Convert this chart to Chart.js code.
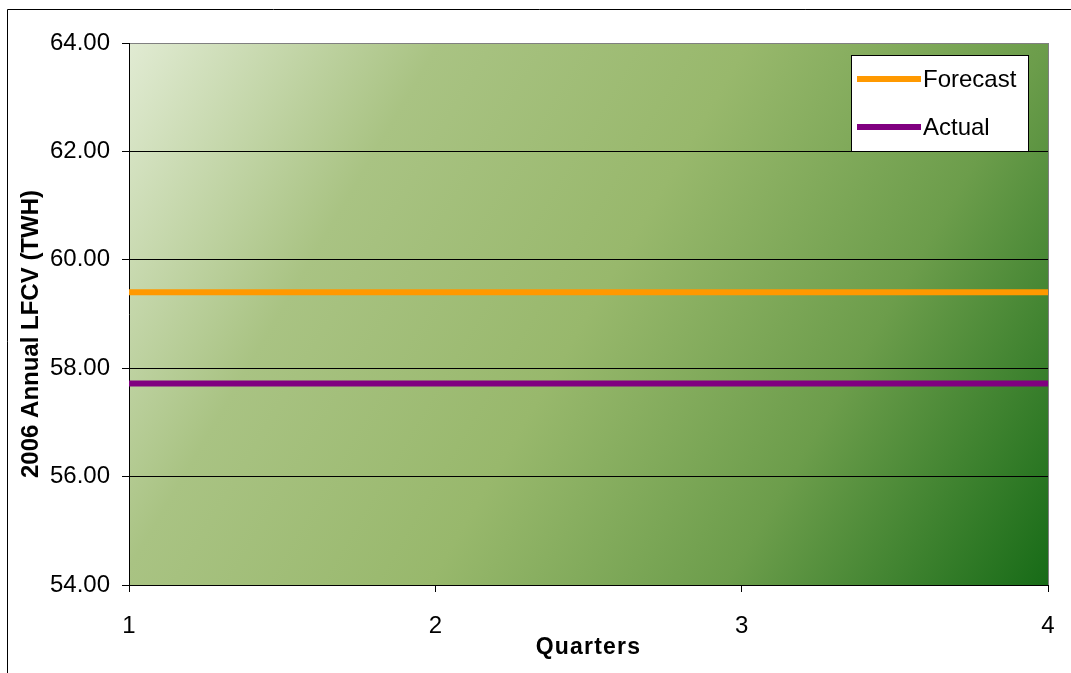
<!DOCTYPE html>
<html>
<head>
<meta charset="utf-8">
<style>
  html, body { margin: 0; padding: 0; background: #ffffff; }
  #wrap { position: relative; width: 1071px; height: 673px; }
  canvas { display: block; }
</style>
<script src="https://cdn.jsdelivr.net/npm/chart.js@4.4.1/dist/chart.umd.min.js"></script>
</head>
<body>
<div id="wrap"><canvas id="c" width="1071" height="673"></canvas></div>
<script>
// Quarters on the horizontal axis
const quarters = ['1', '2', '3', '4'];
// 2006 annual LFCV, TWH
const forecastValues = [59.4, 59.4, 59.4, 59.4];
const actualValues = [57.72, 57.72, 57.72, 57.72];
const seriesNames = ['Forecast', 'Actual'];
const yAxisTitle = '2006 Annual LFCV (TWH)';
const xAxisTitle = 'Quarters';

const FONT = '"Liberation Sans", Arial, sans-serif';

// Diagonal green wash behind the plot, light top-left to dark bottom-right
const plotBackground = {
  id: 'plotBackground',
  beforeDraw(chart) {
    const { ctx, chartArea: a } = chart;
    const g = ctx.createLinearGradient(a.left, a.top, a.right, a.bottom);
    g.addColorStop(0.0, '#e1ebd3');
    g.addColorStop(0.25, '#a9c383');
    g.addColorStop(0.5, '#98b86c');
    g.addColorStop(0.74, '#6c9d4b');
    g.addColorStop(1.0, '#176b17');
    ctx.save();
    ctx.fillStyle = g;
    ctx.fillRect(a.left, a.top, a.right - a.left, a.bottom - a.top);
    ctx.restore();
  },
  afterDraw(chart) {
    const { ctx, chartArea: a } = chart;
    ctx.save();
    // outer frame (top and left edges)
    ctx.strokeStyle = '#000000';
    ctx.lineWidth = 1;
    ctx.beginPath();
    ctx.moveTo(7.5, 2000);
    ctx.lineTo(7.5, 9.5);
    ctx.lineTo(2000, 9.5);
    ctx.stroke();
    // right edge of plot
    ctx.strokeStyle = '#808080';
    ctx.beginPath();
    ctx.moveTo(Math.round(a.right) + 0.5, a.top);
    ctx.lineTo(Math.round(a.right) + 0.5, a.bottom);
    ctx.stroke();

    // axis titles
    ctx.fillStyle = '#000000';
    ctx.textAlign = 'center';
    ctx.textBaseline = 'middle';
    ctx.font = 'bold 23px ' + FONT;
    if ('letterSpacing' in ctx) ctx.letterSpacing = '1.2px';
    ctx.fillText(xAxisTitle, (a.left + a.right) / 2, 648);
    if ('letterSpacing' in ctx) ctx.letterSpacing = '0px';
    ctx.translate(31, 334);
    ctx.rotate(-Math.PI / 2);
    ctx.font = 'bold 24px ' + FONT;
    ctx.fillText(yAxisTitle, 0, 0);
    ctx.restore();

    // legend box
    ctx.save();
    const bx = 851.5, by = 55.5, bw = 177, bh = 96;
    ctx.fillStyle = '#ffffff';
    ctx.fillRect(bx, by, bw, bh);
    ctx.strokeStyle = '#000000';
    ctx.lineWidth = 1;
    ctx.strokeRect(bx, by, bw, bh);
    ctx.font = '24px ' + FONT;
    ctx.textAlign = 'left';
    ctx.textBaseline = 'middle';
    chart.data.datasets.forEach((ds, i) => {
      const cy = 79 + i * 48;
      ctx.strokeStyle = ds.borderColor;
      ctx.lineWidth = 6;
      ctx.beginPath();
      ctx.moveTo(857, cy);
      ctx.lineTo(921, cy);
      ctx.stroke();
      ctx.fillStyle = '#000000';
      ctx.fillText(ds.label, 923, cy + 1);
    });
    ctx.restore();
  }
};

new Chart(document.getElementById('c'), {
  type: 'line',
  data: {
    labels: quarters,
    datasets: [
      {
        label: seriesNames[0],
        data: forecastValues,
        borderColor: '#ff9900',
        borderWidth: 6,
        pointRadius: 0,
        tension: 0
      },
      {
        label: seriesNames[1],
        data: actualValues,
        borderColor: '#800080',
        borderWidth: 6,
        pointRadius: 0,
        tension: 0
      }
    ]
  },
  options: {
    responsive: false,
    animation: false,
    layout: { padding: { left: 0, top: 43, right: 23, bottom: 0 } },
    plugins: {
      legend: { display: false },
      tooltip: { enabled: false },
      title: { display: false }
    },
    scales: {
      x: {
        type: 'category',
        offset: false,
        afterFit(scale) {
          scale.height = 88;
          scale.paddingLeft = 0;
          scale.paddingRight = 0;
        },
        grid: {
          drawOnChartArea: false,
          drawTicks: true,
          tickLength: 7,
          color: '#000000'
        },
        border: { display: true, color: '#000000', width: 1 },
        ticks: {
          color: '#000000',
          font: { family: FONT, size: 24 },
          padding: 20,
          maxRotation: 0
        }
      },
      y: {
        min: 54,
        max: 64,
        afterFit(scale) {
          scale.width = 129;
          scale.paddingTop = 0;
          scale.paddingBottom = 0;
        },
        grid: {
          color: (c) => (c.tick && c.tick.value === 64 ? '#808080' : '#000000'),
          tickColor: '#000000',
          tickLength: 7,
          lineWidth: 1
        },
        border: { display: true, color: '#000000', width: 1 },
        ticks: {
          stepSize: 2,
          color: '#000000',
          font: { family: FONT, size: 24 },
          padding: 12,
          callback: (v) => Number(v).toFixed(2)
        }
      }
    }
  },
  plugins: [plotBackground]
});
</script>
</body>
</html>
